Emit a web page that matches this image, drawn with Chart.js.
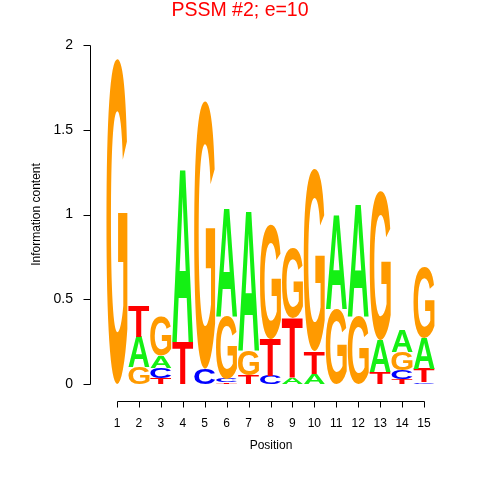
<!DOCTYPE html>
<html>
<head>
<meta charset="utf-8">
<script src="https://cdn.jsdelivr.net/npm/chart.js@4/dist/chart.umd.min.js"></script>
<style>
  html, body { margin: 0; padding: 0; background: #fff; }
</style>
</head>
<body>
<canvas id="logo" width="480" height="480"></canvas>
<script>
// information content (bits) per letter at each position
const positions = ["1", "2", "3", "4", "5", "6", "7", "8", "9", "10", "11", "12", "13", "14", "15"];
const bitsA = [0, 0.18, 0.07, 1.03, 0, 0.64, 0.83, 0, 0.04, 0.06, 0.56, 0.67, 0.19, 0.13, 0.18];
const bitsC = [0, 0, 0.06, 0, 0.09, 0.02, 0, 0.05, 0, 0, 0, 0, 0, 0.05, 0.01];
const bitsG = [1.92, 0.10, 0.23, 0, 1.58, 0.37, 0.15, 0.68, 0.41, 1.07, 0.44, 0.40, 0.88, 0.11, 0.42];
const bitsT = [0, 0.185, 0.035, 0.25, 0, 0.01, 0.05, 0.22, 0.35, 0.13, 0, 0, 0.07, 0.03, 0.08];
const yTicks = [0, 0.5, 1, 1.5, 2];

const letterColors = { A: "#14F014", C: "#0000FF", G: "#FF9A00", T: "#FF0000" };
const bits = { A: bitsA, C: bitsC, G: bitsG, T: bitsT };

// smallest letter at the bottom of each stack
const columns = positions.map((p, i) =>
  Object.keys(bits)
    .map((l) => ({ l: l, v: bits[l][i] }))
    .sort((a, b) => a.v - b.v)
);

const datasets = [0, 1, 2, 3].map((r) => ({
  data: columns.map((c) => c[r].v),
  glyphs: columns.map((c) => c[r].l),
  backgroundColor: "rgba(0,0,0,0)",
  borderWidth: 0,
  barPercentage: 1,
  categoryPercentage: 1,
}));

function drawGlyph(ctx, ch, left, top, w, h, color) {
  ctx.save();
  ctx.font = 'bold 100px "Liberation Sans"';
  const m = ctx.measureText(ch);
  const gw = m.actualBoundingBoxLeft + m.actualBoundingBoxRight;
  const gh = m.actualBoundingBoxAscent + m.actualBoundingBoxDescent;
  ctx.translate(left, top);
  ctx.scale(w / gw, h / gh);
  ctx.fillStyle = color;
  ctx.textAlign = "left";
  ctx.textBaseline = "alphabetic";
  ctx.fillText(ch, m.actualBoundingBoxLeft, m.actualBoundingBoxAscent);
  ctx.restore();
}

const logoLetters = {
  id: "logoLetters",
  afterDatasetsDraw(chart) {
    const ctx = chart.ctx;
    chart.data.datasets.forEach((ds, d) => {
      chart.getDatasetMeta(d).data.forEach((bar, i) => {
        const p = bar.getProps(["x", "y", "base", "width"], true);
        const h = p.base - p.y;
        if (h < 0.3) return;
        const w = p.width * 0.96;
        drawGlyph(ctx, ds.glyphs[i], p.x - w / 2, p.y, w, h, letterColors[ds.glyphs[i]]);
      });
    });
  },
};

// R style axes: lines only between first and last tick
const rAxes = {
  id: "rAxes",
  afterDraw(chart) {
    const ctx = chart.ctx;
    const xs = chart.scales.x;
    const ys = chart.scales.y;
    ctx.save();
    ctx.strokeStyle = "#000";
    ctx.fillStyle = "#000";
    ctx.lineWidth = 1;

    // title
    ctx.fillStyle = "#FF0000";
    ctx.font = '19.5px "Liberation Sans"';
    ctx.textAlign = "center";
    ctx.textBaseline = "alphabetic";
    ctx.fillText("PSSM #2; e=10", 240, 15.5);
    ctx.fillStyle = "#000";

    // y axis
    const ax = 90.5;
    ctx.beginPath();
    ctx.moveTo(ax, Math.round(ys.getPixelForValue(0)) + 0.5);
    ctx.lineTo(ax, Math.round(ys.getPixelForValue(2)) + 0.5);
    yTicks.forEach((t) => {
      const py = Math.round(ys.getPixelForValue(t)) + 0.5;
      ctx.moveTo(ax, py);
      ctx.lineTo(ax - 7, py);
    });
    ctx.stroke();
    ctx.font = '14px "Liberation Sans"';
    ctx.textAlign = "right";
    ctx.textBaseline = "middle";
    yTicks.forEach((t) => {
      ctx.fillText(String(t), 73, ys.getPixelForValue(t));
    });

    // x axis
    const ay = 401.5;
    const x0 = Math.round(xs.getPixelForTick(0)) + 0.5;
    const x1 = Math.round(xs.getPixelForTick(positions.length - 1)) + 0.5;
    ctx.beginPath();
    ctx.moveTo(x0, ay);
    ctx.lineTo(x1, ay);
    positions.forEach((p, i) => {
      const px = Math.round(xs.getPixelForTick(i)) + 0.5;
      ctx.moveTo(px, ay);
      ctx.lineTo(px, ay + 6);
    });
    ctx.stroke();
    ctx.font = '12px "Liberation Sans"';
    ctx.textAlign = "center";
    ctx.textBaseline = "middle";
    positions.forEach((p, i) => {
      ctx.fillText(p, xs.getPixelForTick(i), 424);
    });

    ctx.font = '12px "Liberation Sans"';
    ctx.fillText("Position", (x0 + x1) / 2, 446);

    ctx.translate(37, (ys.getPixelForValue(0) + ys.getPixelForValue(2)) / 2);
    ctx.rotate(-Math.PI / 2);
    ctx.fillText("Information content", 0, 0);
    ctx.restore();
  },
};

const config = {
  type: "bar",
  data: { labels: positions, datasets: datasets },
  options: {
    responsive: false,
    animation: false,
    devicePixelRatio: 1,
    layout: { padding: { left: 106, right: 45, top: 45, bottom: 96 } },
    plugins: {
      legend: { display: false },
      tooltip: { enabled: false },
      title: { display: false },
    },
    scales: {
      x: { type: "category", display: false, stacked: true, offset: true },
      y: { display: false, stacked: true, min: 0, max: 2 },
    },
  },
  plugins: [logoLetters, rAxes],
};

const logoChart = new Chart(document.getElementById("logo"), config);
</script>
</body>
</html>
